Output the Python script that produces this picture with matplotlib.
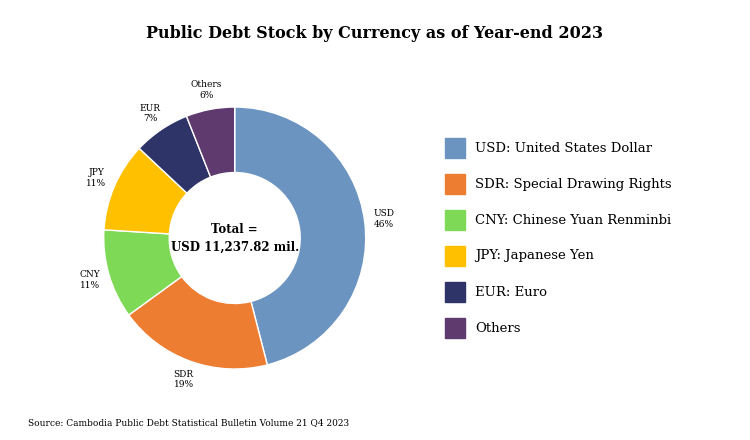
import matplotlib.pyplot as plt
from matplotlib.patches import Rectangle

codes = ["USD", "SDR", "CNY", "JPY", "EUR", "Others"]
shares = [46, 19, 11, 11, 7, 6]
legend_labels = ["USD: United States Dollar", "SDR: Special Drawing Rights",
                 "CNY: Chinese Yuan Renminbi", "JPY: Japanese Yen", "EUR: Euro", "Others"]
colors = ["#6C94C1", "#ED7D31", "#7ED957", "#FFC000", "#2E3468", "#5E3A6E"]

plt.rcParams["font.family"] = "DejaVu Serif"
fig = plt.figure(figsize=(7.5, 4.4), dpi=100)
ax = fig.add_axes([0.313 - 0.1747, 0.459 - 0.2977, 0.3493, 0.5955])
wedges, texts = ax.pie(shares, colors=colors, startangle=90, counterclock=False,
                       labels=[f"{c}\n{s}%" for c, s in zip(codes, shares)],
                       labeldistance=1.15, wedgeprops=dict(width=0.5, edgecolor="white", linewidth=1),
                       textprops=dict(fontsize=6.5, ha="center"))
for t in texts:
    t.set_horizontalalignment("center")
ax.set_xlim(-1, 1)
ax.set_ylim(-1, 1)
ax.set_aspect("equal")
ax.text(0, 0, "Total =\nUSD 11,237.82 mil.", ha="center", va="center",
        fontsize=8.5, fontweight="bold", linespacing=1.5)

fig.text(0.5, 0.925, "Public Debt Stock by Currency as of Year-end 2023",
         ha="center", va="center", fontsize=11.5, fontweight="bold")

for i, (lab, col) in enumerate(zip(legend_labels, colors)):
    yc = 1 - (148 + 36 * i) / 440
    fig.patches.append(Rectangle((445 / 750, yc - 10 / 440), 20 / 750, 20 / 440,
                                 transform=fig.transFigure, color=col))
    fig.text(475 / 750, yc, lab, va="center", fontsize=9.5)

fig.text(28 / 750, 1 - 423 / 440,
         "Source: Cambodia Public Debt Statistical Bulletin Volume 21 Q4 2023",
         fontsize=6.5, va="center")
fig.savefig("out.png", dpi=100)
